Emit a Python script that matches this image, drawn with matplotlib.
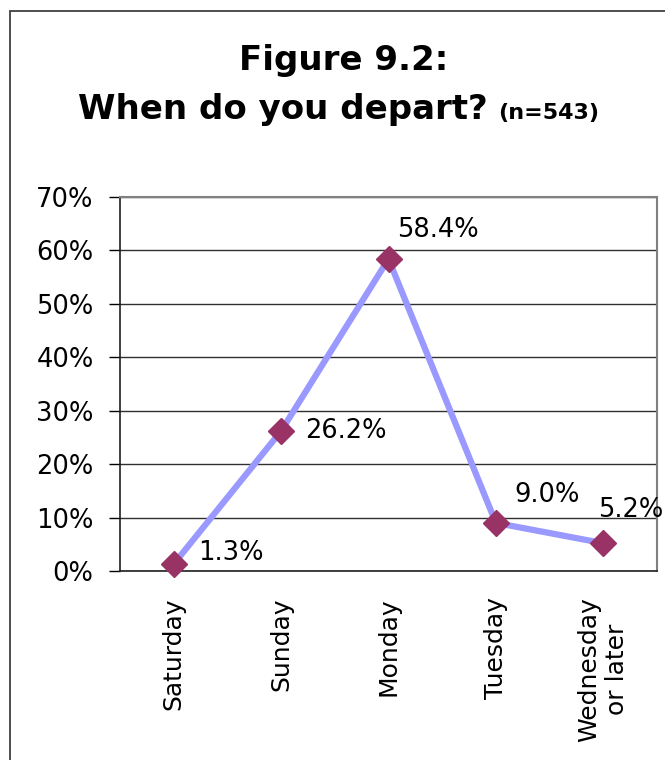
import matplotlib.pyplot as plt
from matplotlib.patches import Rectangle
from matplotlib.ticker import PercentFormatter

days = ['Saturday', 'Sunday', 'Monday', 'Tuesday', 'Wednesday\nor later']
share = [1.3, 26.2, 58.4, 9.0, 5.2]
labels = ['1.3%', '26.2%', '58.4%', '9.0%', '5.2%']
yticks = [0, 10, 20, 30, 40, 50, 60, 70]

# label offsets from each point, in pixels
offsets = [(24, 11), (24, 0), (9, 29), (18, 28), (-5, 33)]

fig = plt.figure(figsize=(6.65, 7.6), dpi=100)

# chart border
fig.patches.append(Rectangle((9.5 / 665, -0.05), 1.2, 1 - 10.5 / 760 + 0.05,
                             transform=fig.transFigure, fill=False,
                             edgecolor='#404040', linewidth=1.3))

fig.text(344 / 665, 1 - 70 / 760, 'Figure 9.2:', ha='center', va='baseline',
         fontsize=24.5, fontweight='bold')
fig.text(488 / 665, 1 - 119 / 760, 'When do you depart?', ha='right', va='baseline',
         fontsize=24.5, fontweight='bold')
fig.text(498 / 665, 1 - 119 / 760, '(n=543)', ha='left', va='baseline',
         fontsize=16, fontweight='bold')

ax = fig.add_axes([120 / 665, 1 - 571 / 760, 537 / 665, 374 / 760])
x = range(len(days))
ax.plot(x, share, color='#9999FF', linewidth=4.5, zorder=3,
        marker='D', markersize=13, markerfacecolor='#993366',
        markeredgecolor='#993366', clip_on=False)

for i, (v, lab) in enumerate(zip(share, labels)):
    ax.annotate(lab, (i, v), xytext=offsets[i], textcoords='offset pixels',
                ha='left', va='center', fontsize=18.5, zorder=4,
                annotation_clip=False)

ax.set_xlim(-0.5, len(days) - 0.5)
ax.set_ylim(0, 70)
ax.set_yticks(yticks)
ax.yaxis.set_major_formatter(PercentFormatter(decimals=0))
ax.set_xticks(list(x))
ax.set_xticklabels(days, rotation=90, multialignment='center')
ax.tick_params(axis='x', length=0, pad=19, labelsize=18)
ax.tick_params(axis='y', length=8, width=1, pad=11, labelsize=18.5)
ax.grid(axis='y', color='#303030', linewidth=1)
ax.set_axisbelow(True)

for side in ['top', 'right']:
    ax.spines[side].set_color('#808080')
    ax.spines[side].set_linewidth(1.5)
for side in ['left', 'bottom']:
    ax.spines[side].set_color('#202020')
    ax.spines[side].set_linewidth(1.2)

fig.savefig('out.png', dpi=100)
